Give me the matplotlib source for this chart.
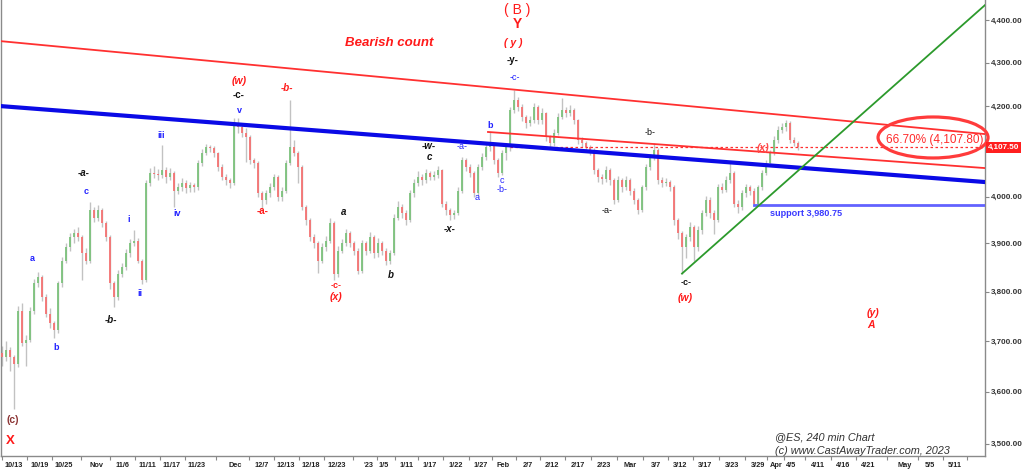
import numpy as np
import matplotlib
matplotlib.use("Agg")
import matplotlib.pyplot as plt
from matplotlib.patches import Ellipse
from matplotlib.ticker import FixedLocator, NullLocator, FuncFormatter
from matplotlib.transforms import blended_transform_factory

plt.rcParams['font.family'] = ['Liberation Sans', 'DejaVu Sans']

# ---------------- data (ES 240 min, back-adjusted) ----------------
first_open = 3675
closes = [
    3667, 3681, 3667, 3655, 3761, 3695, 3701, 3761, 3817, 3829,
    3788, 3755, 3735, 3721, 3817, 3864, 3892, 3913, 3921, 3913,
    3879, 3864, 3970, 3955, 3970, 3943, 3913, 3817, 3788, 3837,
    3850, 3879, 3900, 3906, 3864, 3823, 4029, 4051, 4048, 4046,
    4057, 4042, 4051, 4013, 4020, 4029, 4018, 4024, 4020, 4073,
    4095, 4108, 4106, 4095, 4064, 4042, 4035, 4029, 4162, 4153,
    4140, 4131, 4079, 4073, 4007, 3992, 4007, 4020, 4042, 3998,
    4013, 4073, 4108, 4095, 4064, 3977, 3949, 3913, 3900, 3864,
    3892, 3906, 3943, 3837, 3885, 3900, 3921, 3900, 3885, 3843,
    3900, 3885, 3913, 3879, 3900, 3885, 3864, 3879, 3955, 3977,
    3964, 3949, 4007, 4029, 4042, 4035, 4051, 4042, 4046, 4057,
    3985, 3970, 3960, 3964, 4013, 4079, 4064, 4051, 4007, 4064,
    4086, 4108, 4112, 4079, 4051, 4095, 4108, 4191, 4214, 4198,
    4175, 4162, 4168, 4198, 4168, 4184, 4131, 4117, 4140, 4175,
    4191, 4184, 4191, 4168, 4124, 4117, 4108, 4101, 4057, 4042,
    4038, 4057, 4035, 3992, 4035, 4020, 4035, 4013, 3992, 3970,
    4020, 4064, 4086, 4101, 4035, 4029, 4032, 4020, 3949, 3921,
    3892, 3913, 3934, 3892, 3928, 3964, 3992, 3964, 3949, 4020,
    4015, 4035, 4051, 3985, 3977, 4007, 4020, 4013, 3985, 4020,
    4051, 4073, 4095, 4124, 4146, 4153, 4162, 4124, 4117, 4107.5,
]
highs = [
    3690, 3700, 3688, 3672, 3770, 3776, 3712, 3768, 3825, 3840,
    3835, 3795, 3766, 3740, 3822, 3872, 3900, 3922, 3930, 3934,
    3918, 3890, 3988, 3978, 3981, 3975, 3948, 3918, 3822, 3845,
    3860, 3888, 3910, 3928, 3912, 3868, 4035, 4062, 4066, 4060,
    4113, 4065, 4062, 4056, 4030, 4040, 4035, 4032, 4030, 4080,
    4104, 4115, 4114, 4110, 4098, 4070, 4050, 4040, 4173, 4173,
    4158, 4150, 4136, 4085, 4078, 4012, 4015, 4030, 4050, 4046,
    4020, 4080, 4214, 4125, 4100, 4068, 3982, 3955, 3920, 3905,
    3900, 3915, 3953, 3948, 3895, 3910, 3930, 3926, 3905, 3890,
    3908, 3906, 3925, 3918, 3912, 3905, 3890, 3886, 3962, 3990,
    3985, 3970, 4015, 4038, 4055, 4050, 4060, 4056, 4055, 4066,
    4060, 3990, 3975, 3972, 4020, 4086, 4084, 4070, 4055, 4070,
    4095, 4118, 4142, 4116, 4084, 4102, 4116, 4198, 4236, 4220,
    4204, 4180, 4178, 4208, 4203, 4195, 4188, 4136, 4148, 4184,
    4218, 4198, 4202, 4196, 4172, 4130, 4122, 4112, 4106, 4062,
    4050, 4066, 4062, 4040, 4044, 4040, 4045, 4040, 4018, 3996,
    4026, 4072, 4094, 4117, 4106, 4042, 4040, 4036, 4024, 3955,
    3926, 3920, 3945, 3940, 3936, 3972, 4002, 3998, 3970, 4028,
    4030, 4044, 4073, 4056, 3992, 4014, 4028, 4025, 4018, 4026,
    4058, 4080, 4102, 4132, 4155, 4162, 4168, 4166, 4130, 4122,
]
lows = [
    3650, 3660, 3640, 3567, 3648, 3690, 3651, 3698, 3755, 3810,
    3780, 3748, 3726, 3705, 3716, 3810, 3858, 3885, 3900, 3905,
    3823, 3856, 3860, 3945, 3948, 3935, 3905, 3805, 3768, 3782,
    3830, 3845, 3872, 3895, 3858, 3815, 3820, 4022, 4040, 4035,
    4040, 4030, 4035, 3977, 4005, 4012, 4008, 4010, 4010, 4015,
    4066, 4090, 4098, 4086, 4055, 4035, 4026, 4018, 4025, 4140,
    4130, 4075, 4070, 4062, 4000, 3975, 3985, 4000, 4015, 3990,
    3990, 4008, 4068, 4088, 4030, 3970, 3940, 3905, 3890, 3839,
    3858, 3885, 3900, 3823, 3830, 3880, 3895, 3892, 3875, 3836,
    3838, 3876, 3880, 3870, 3872, 3875, 3854, 3856, 3875, 3950,
    3955, 3940, 3945, 4000, 4022, 4026, 4030, 4035, 4036, 4040,
    3978, 3960, 3949, 3952, 3960, 4008, 4055, 4042, 4000, 4002,
    4058, 4080, 4100, 4070, 4042, 4046, 4080, 4100, 4185, 4190,
    4166, 4152, 4155, 4162, 4160, 4160, 4122, 4108, 4110, 4135,
    4170, 4176, 4178, 4160, 4115, 4108, 4098, 4090, 4048, 4032,
    4028, 4032, 4026, 3985, 3988, 4010, 4014, 4004, 3984, 3962,
    3966, 4015, 4058, 4080, 4028, 4020, 4022, 4012, 3940, 3910,
    3837, 3870, 3905, 3864, 3885, 3920, 3958, 3955, 3920, 3945,
    4008, 4010, 4030, 3978, 3965, 3970, 4000, 4004, 3980.75, 3982,
    4015, 4046, 4068, 4090, 4118, 4140, 4145, 4118, 4110, 4102,
]

x_tick_labels = ["10/13", "10/19", "10/25", "Nov", "11/6", "11/11", "11/17", "11/23",
                 "Dec", "12/7", "12/13", "12/18", "12/23", "'23", "1/5", "1/11", "1/17",
                 "1/22", "1/27", "Feb", "2/7", "2/12", "2/17", "2/23", "Mar", "3/7",
                 "3/12", "3/17", "3/23", "3/29", "Apr", "4/5", "4/11", "4/16", "4/21",
                 "May", "5/5", "5/11"]
x_tick_pos = [3.0, 9.5, 15.5, 23.75, 30, 36.25, 42.5, 48.75, 58.25, 65, 71, 77.25,
              83.75, 91.75, 95.5, 101, 107, 113.5, 119.75, 125.25, 131.5, 137.5, 144,
              150.5, 157, 163.5, 169.5, 175.75, 182.5, 189, 193.5, 197.25, 204, 210.25,
              216.5, 225.75, 232, 238.25]
y_ticks = [3500, 3600, 3700, 3800, 3900, 4000, 4100, 4200, 4300, 4400]

last_price = 4107.50
support_level = 3980.75
retrace_text = "66.70% (4,107.80)"

# trend lines (bar index, price)
blue_channel = [(-0.5, 4200.4), (245.75, 4031.5)]
red_upper = [(-0.5, 4350.4), (245.75, 4137.3)]
red_lower = [(121.5, 4142.0), (245.75, 4062.0)]
green_trend = [(170, 3837.0), (245.75, 4435.8)]
support_start = 188
dotted_start = 127

# ---------------- figure ----------------
fig = plt.figure(figsize=(10.24, 4.71), dpi=100)
ax = fig.add_axes([1 / 1024, 15 / 471, 984 / 1024, 456 / 471])
ax.set_yscale('log')
ax.set_xlim(-0.25, 245.75)
ax.set_ylim(3477, 4448)

n = min(len(closes), len(highs), len(lows))
c = np.array(closes[:n], dtype=float)
o = np.concatenate([[first_open], c[:-1]])
h = np.maximum(np.array(highs[:n], dtype=float), np.maximum(o, c))
l = np.minimum(np.array(lows[:n], dtype=float), np.minimum(o, c))
x = np.arange(n)

up_col, dn_col, wick_col = '#7cc27c', '#f57272', '#c2c2c2'
cols = [up_col if cc >= oo else dn_col for oo, cc in zip(o, c)]
ax.vlines(x, l, h, colors=wick_col, lw=1.0, zorder=2)
ax.vlines(x, np.minimum(o, c), np.maximum(o, c), colors=cols, lw=1.3, zorder=3)

def seg(pts, **kw):
    ax.plot([pts[0][0], pts[1][0]], [pts[0][1], pts[1][1]], **kw)

seg(red_upper, color='#ff3030', lw=1.3, zorder=4)
seg(red_lower, color='#ff3030', lw=1.3, zorder=4)
seg(blue_channel, color='#0a0ae6', lw=3.0, zorder=5)
seg(green_trend, color='#2c9a2c', lw=1.3, zorder=5)
ax.plot([support_start, 245.75], [support_level, support_level], color='#6262ff', lw=2.0, zorder=4)
ax.plot([dotted_start, 245.75], [last_price, last_price], color='#ff3030', lw=0.9,
        ls=(0, (2, 2)), zorder=4)

# ellipse + retracement text
ax.add_patch(Ellipse((0.9472, 0.6985), 0.1118, 0.0899, transform=ax.transAxes,
                     fill=False, ec='#ff3b3b', lw=2.3, clip_on=False, zorder=7))
ax.text(233.25, 4124, retrace_text, color='#ff2a2a', fontsize=8.5, ha='center',
        va='center', zorder=8)

# ---------------- wave labels ----------------
RED, BLUE, BLK, BRN = '#ff1a1a', '#2222ff', '#111111', '#8b3333'
labels = [
    ("( B )", 128.75, 4423.8, RED, 10, 'normal', 'normal'),
    ("Y", 128.75, 4390.5, RED, 10, 'bold', 'normal'),
    ("( y )", 127.75, 4345.7, RED, 7.5, 'bold', 'italic'),
    ("-y-", 127.75, 4306.0, BLK, 7, 'bold', 'normal'),
    ("-c-", 128.25, 4266.6, BLUE, 6.5, 'normal', 'normal'),
    ("Bearish count", 96.9, 4345.7, RED, 9.5, 'bold', 'italic'),
    ("b", 122, 4157.5, BLUE, 6.5, 'bold', 'normal'),
    ("-w-", 106.75, 4110.6, BLK, 7, 'bold', 'italic'),
    ("c", 106.75, 4086.3, BLK, 7, 'bold', 'italic'),
    ("-a-", 115, 4110.6, BLUE, 6.5, 'normal', 'normal'),
    ("c", 125, 4035.9, BLUE, 6.5, 'normal', 'normal'),
    ("-b-", 125, 4014.2, BLUE, 6.5, 'normal', 'normal'),
    ("a", 118.75, 3996.9, BLUE, 6.5, 'normal', 'normal'),
    ("-x-", 112, 3930.6, BLK, 7, 'bold', 'italic'),
    ("-a-", 151.25, 3969.0, BLK, 6.5, 'normal', 'normal'),
    ("-b-", 162, 4141.8, BLK, 6.5, 'normal', 'normal'),
    ("a", 85.5, 3966.8, BLK, 7, 'bold', 'italic'),
    ("b", 97.25, 3834.1, BLK, 7, 'bold', 'italic'),
    ("-c-", 83.5, 3813.4, RED, 6.5, 'bold', 'normal'),
    ("(x)", 83.5, 3788.8, RED, 7.5, 'bold', 'italic'),
    ("(w)", 59.25, 4257.4, RED, 7.5, 'bold', 'italic'),
    ("-c-", 59.25, 4225.4, BLK, 7, 'bold', 'normal'),
    ("v", 59.25, 4191.3, BLUE, 6.5, 'bold', 'normal'),
    ("-b-", 71.25, 4241.4, RED, 7, 'bold', 'italic'),
    ("iii", 39.75, 4135.1, BLUE, 6.5, 'bold', 'normal'),
    ("-a-", 20.5, 4051.2, BLK, 7, 'bold', 'italic'),
    ("c", 21, 4009.9, BLUE, 6.5, 'bold', 'normal'),
    ("i", 31.75, 3949.7, BLUE, 6.5, 'bold', 'normal'),
    ("iv", 43.75, 3962.5, BLUE, 6.5, 'bold', 'normal'),
    ("-a-", 65.25, 3969.0, RED, 7, 'bold', 'normal'),
    ("a", 7.5, 3867.4, BLUE, 6.5, 'bold', 'normal'),
    ("b", 13.5, 3686.0, BLUE, 6.5, 'bold', 'normal'),
    ("-b-", 27.25, 3742.1, BLK, 7, 'bold', 'italic'),
    ("ii", 34.5, 3795.0, BLUE, 6.5, 'bold', 'normal'),
    ("(c)", 2.75, 3545.3, BRN, 7.5, 'bold', 'normal'),
    ("X", 2.0, 3505.3, RED, 9.5, 'bold', 'normal'),
    ("-c-", 171, 3819.6, BLK, 6.5, 'bold', 'normal'),
    ("(w)", 170.75, 3786.8, RED, 7.5, 'bold', 'italic'),
    ("(y)", 217.75, 3756.2, RED, 7.5, 'bold', 'italic'),
    ("A", 217.25, 3732.0, RED, 7.5, 'bold', 'italic'),
    ("(x)", 190.25, 4106.2, '#ff4a4a', 7.5, 'bold', 'italic'),
]
for txt, bx, py, col, fs, fw, st in labels:
    ax.text(bx, py, txt, color=col, fontsize=fs, fontweight=fw, fontstyle=st,
            ha='center', va='center', zorder=9)

ax.text(192, 3962.5, "support 3,980.75", color='#3a3aff', fontsize=6.6,
        fontweight='bold', ha='left', va='center', zorder=9)

ax.text(0.7866, 0.0417, "@ES, 240 min Chart", transform=ax.transAxes,
        color='#333333', fontsize=7.8, fontstyle='italic', ha='left', va='center')
ax.text(0.7866, 0.0110, "(c) www.CastAwayTrader.com, 2023", transform=ax.transAxes,
        color='#333333', fontsize=7.8, fontstyle='italic', ha='left', va='center')

# last price box on the right axis (it covers the 4,100.00 label, as in the source)
btr = blended_transform_factory(ax.transAxes, ax.transData)
ax.text(1.003, last_price, "4,107.50", transform=btr, color='white', fontsize=5.8,
        fontweight='bold', ha='left', va='center', clip_on=False, zorder=12,
        bbox=dict(boxstyle='square,pad=0.25', fc='#ff1f1f', ec='none'))

# ---------------- axes styling ----------------
ax.yaxis.tick_right()
ax.yaxis.set_major_locator(FixedLocator(y_ticks))
ax.yaxis.set_minor_locator(NullLocator())
ax.yaxis.set_major_formatter(FuncFormatter(
    lambda v, p: "" if abs(v - last_price) < 20 else f"{v:,.2f}"))
ax.tick_params(axis='y', which='major', length=3, width=0.8, color='#888888',
               labelsize=5.8, labelcolor='#333333', pad=1.5)
for lab in ax.get_yticklabels():
    lab.set_fontweight('bold')

ax.set_xticks(x_tick_pos)
ax.set_xticklabels(x_tick_labels)
mids = [(a + b) / 2 for a, b in zip(x_tick_pos[:-1], x_tick_pos[1:])]
ax.xaxis.set_minor_locator(FixedLocator([x_tick_pos[0] - 3] + mids + [x_tick_pos[-1] + 3]))
ax.tick_params(axis='x', which='major', length=0, labelsize=5.3, labelcolor='#222222', pad=4)
ax.tick_params(axis='x', which='minor', length=3, width=0.8, color='#888888')
for lab in ax.get_xticklabels():
    lab.set_fontweight('bold')

for side in ['left', 'right', 'bottom']:
    ax.spines[side].set_color('#8a8a8a')
    ax.spines[side].set_linewidth(1.0)
ax.spines['top'].set_visible(False)

fig.savefig('out.png', dpi=100)
